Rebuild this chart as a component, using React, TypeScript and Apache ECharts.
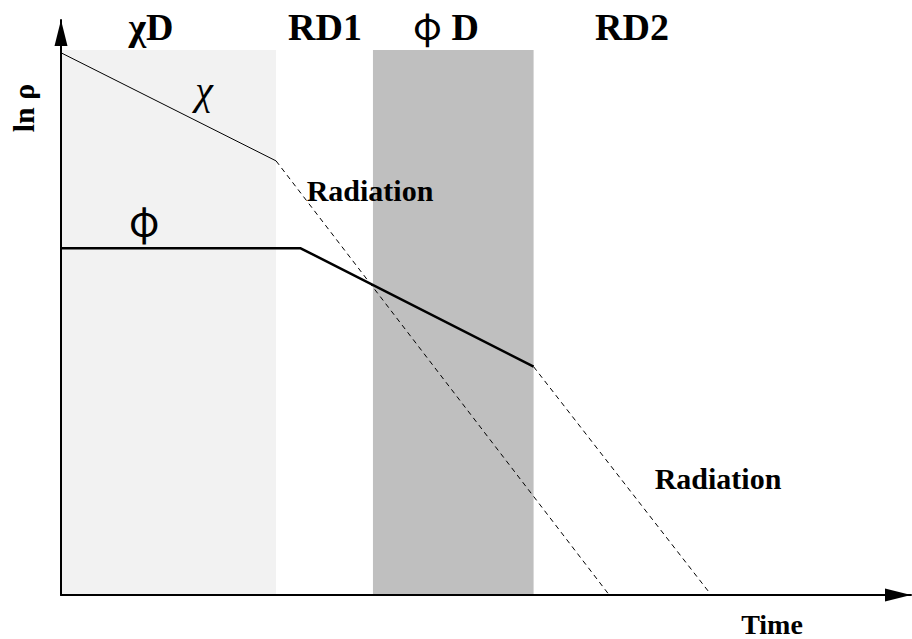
import React, { useEffect, useRef } from 'react';
import * as echarts from 'echarts';

// Schematic: ln(rho) versus time, arbitrary units 0..100 on both axes
const phaseLabels = ['χD', 'RD1', 'φ D', 'RD2'];
const curveLabels = ['χ', 'φ'];
const radiationLabel = 'Radiation';
const xAxisTitle = 'Time';
const yAxisTitle = 'ln ρ';

const bandTop = 94.8;
const chiDominatedBand = [0, 25.3];
const phiDominatedBand = [36.7, 55.6];

const chiMatter = [
  [0, 94.3],
  [25.3, 75.5],
];
const chiRadiation = [
  [25.3, 75.5],
  [64.5, 0],
];
const phiMatter = [
  [0, 60.3],
  [28.2, 60.3],
  [55.6, 39.7],
];
const phiRadiation = [
  [55.6, 39.7],
  [76.5, 0],
];

const FONT = '"Liberation Serif", "Times New Roman", serif';
// Greek phi drawn with the stroked form (as in the Symbol font), rest in Times-like serif
const PHI_FONT = '"PhiStroke", "Liberation Serif", serif';

const PHI_FACE = `@font-face {
  font-family: "PhiStroke";
  src: local("Noto Sans CJK JP"), local("Noto Sans CJK JP Regular"), local("NotoSansCJKjp-Regular"), local("NotoSansCJKJP-Regular");
  unicode-range: U+03C6;
  font-weight: 100 900;
}`;

export default function App() {
  const ref = useRef<HTMLDivElement>(null);

  useEffect(() => {
    if (!ref.current) return;
    document.body.style.margin = '0';
    if (!document.getElementById('phi-face')) {
      const st = document.createElement('style');
      st.id = 'phi-face';
      st.textContent = PHI_FACE;
      document.head.appendChild(st);
    }
    let chart: echarts.ECharts | null = null;
    let disposed = false;

    const txt = (
      text: string,
      x: number,
      y: number,
      size: number,
      weight: string = 'bold',
      rotation = 0,
      family: string = FONT,
      fontStyle: string = 'normal'
    ) => ({
      type: 'text',
      x,
      y,
      rotation,
      z: 100,
      style: {
        text,
        fill: '#000',
        font: `${fontStyle} ${weight} ${size}px ${family}`,
        align: 'center',
        verticalAlign: 'middle',
      },
    });

    const axisCommon = {
      type: 'value',
      min: 0,
      max: 100,
      z: 10,
      axisLine: {
        show: true,
        symbol: ['none', 'triangle'],
        symbolSize: [13, 26],
        symbolOffset: [0, -13],
        lineStyle: { color: '#000', width: 2 },
      },
      axisTick: { show: false },
      axisLabel: { show: false },
      splitLine: { show: false },
    };

    const option: any = {
      animation: false,
      backgroundColor: '#ffffff',
      grid: { left: 61, top: 20, right: 1, bottom: 44, containLabel: false },
      xAxis: { ...axisCommon },
      yAxis: { ...axisCommon },
      series: [
        {
          type: 'line',
          name: 'bands',
          data: [],
          z: 1,
          silent: true,
          markArea: {
            silent: true,
            label: { show: false },
            data: [
              [
                { xAxis: chiDominatedBand[0], yAxis: 0, itemStyle: { color: '#f2f2f2', opacity: 1 } },
                { xAxis: chiDominatedBand[1], yAxis: bandTop },
              ],
              [
                { xAxis: phiDominatedBand[0], yAxis: 0, itemStyle: { color: '#bfbfbf', opacity: 1 } },
                { xAxis: phiDominatedBand[1], yAxis: bandTop },
              ],
            ],
          },
        },
        {
          type: 'line',
          name: 'chi',
          data: chiMatter,
          showSymbol: false,
          symbol: 'none',
          z: 5,
          lineStyle: { color: '#000', width: 1 },
        },
        {
          type: 'line',
          name: 'chi radiation',
          data: chiRadiation,
          showSymbol: false,
          symbol: 'none',
          z: 5,
          lineStyle: { color: '#000', width: 1, type: [5, 4] },
        },
        {
          type: 'line',
          name: 'phi',
          data: phiMatter,
          showSymbol: false,
          symbol: 'none',
          z: 6,
          lineStyle: { color: '#000', width: 2.5 },
        },
        {
          type: 'line',
          name: 'phi radiation',
          data: phiRadiation,
          showSymbol: false,
          symbol: 'none',
          z: 5,
          lineStyle: { color: '#000', width: 1, type: [5, 4] },
        },
      ],
      graphic: [
        txt(phaseLabels[0], 151, 27, 38),
        txt(phaseLabels[1], 325, 27, 38),
        txt(phaseLabels[2], 446, 27, 38, 'bold', 0, PHI_FONT),
        txt(phaseLabels[3], 632, 27, 38),
        txt(curveLabels[0], 204, 90, 40, 'normal', 0, FONT, 'italic'),
        txt(curveLabels[1], 144, 222, 40, 'normal', 0, PHI_FONT),
        txt(radiationLabel, 370, 190, 30),
        txt(radiationLabel, 718, 478, 30),
        txt(xAxisTitle, 772, 624, 28),
        txt(yAxisTitle, 23, 108, 30, 'bold', Math.PI / 2),
      ],
    };

    const draw = () => {
      if (disposed || chart || !ref.current) return;
      chart = echarts.init(ref.current, null, { renderer: 'svg' });
      chart.setOption(option);
    };

    const fonts: any = (document as any).fonts;
    if (fonts && fonts.load) {
      const timer = setTimeout(draw, 400);
      fonts
        .load('38px "PhiStroke"', 'φ')
        .then(() => {
          clearTimeout(timer);
          draw();
        })
        .catch(() => {
          clearTimeout(timer);
          draw();
        });
    } else {
      draw();
    }

    return () => {
      disposed = true;
      if (chart) chart.dispose();
    };
  }, []);

  return (
    <div
      ref={ref}
      style={{ width: 912, height: 639, position: 'absolute', left: 0, top: 0 }}
    />
  );
}
